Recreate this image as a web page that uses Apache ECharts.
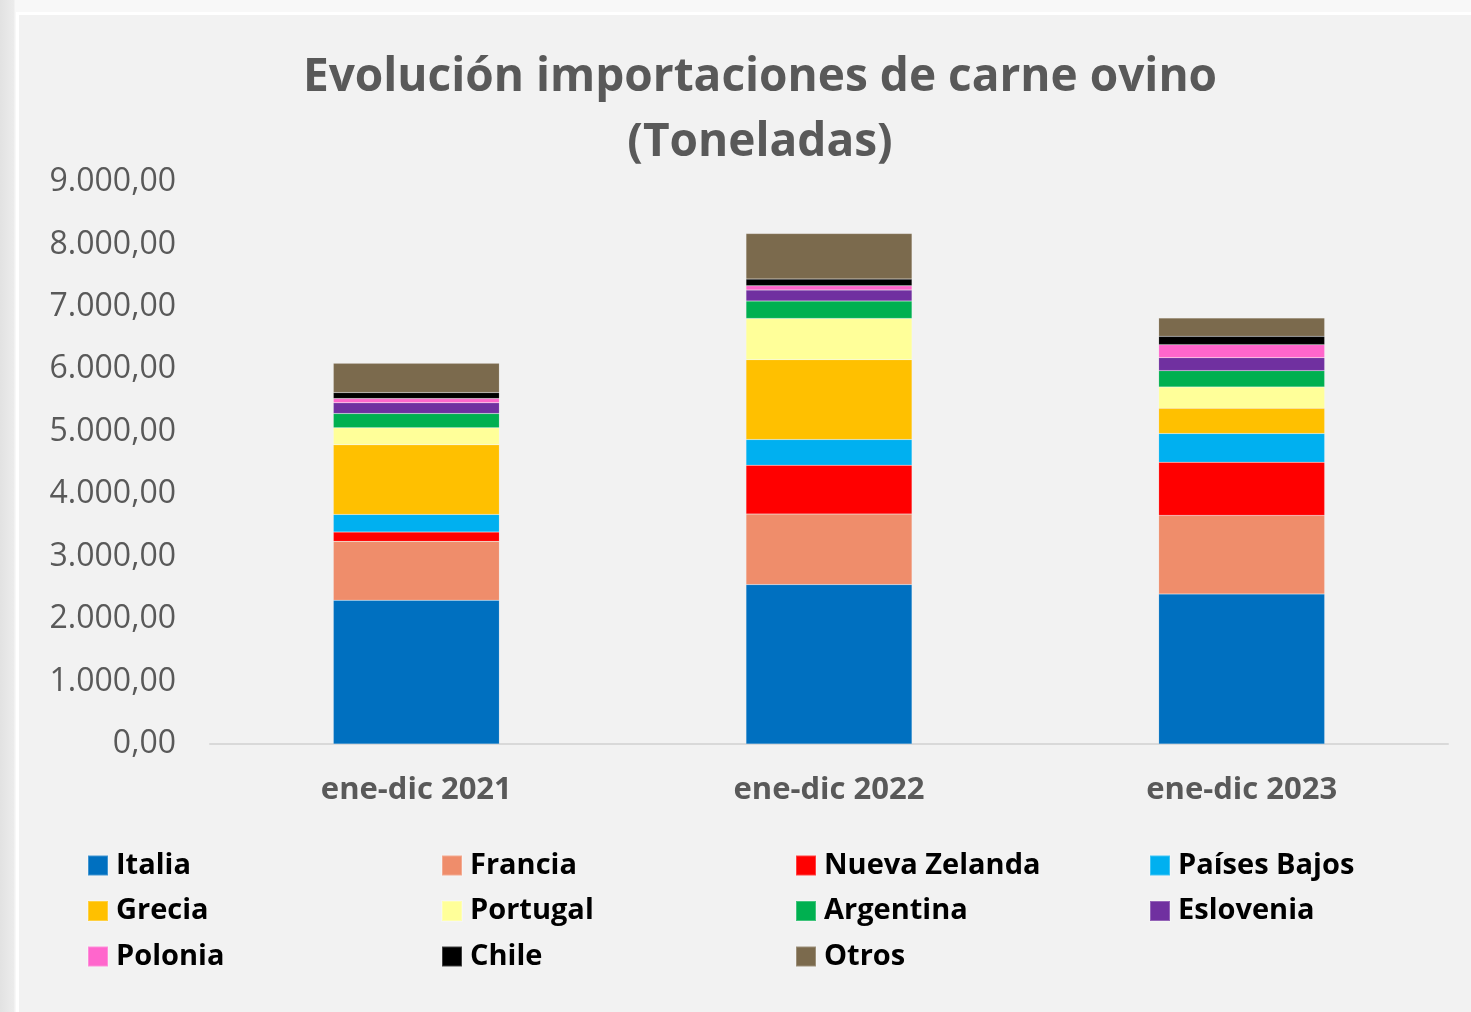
<!DOCTYPE html>
<html>
<head>
<meta charset="utf-8">
<script src="https://cdn.jsdelivr.net/npm/echarts@6/dist/echarts.min.js"></script>
<style>
  html, body { margin: 0; padding: 0; width: 1471px; height: 1012px; overflow: hidden;
    background: linear-gradient(to right, #e2e2e2 0px, #ececec 14px, #f8f8f8 15px); }
  #panel { position: absolute; left: 16px; top: 12px; width: 1460px; height: 1010px;
    background: #f2f2f2; border-left: 3px solid #fff; border-top: 3px solid #fff; }
  #main { position: absolute; left: 0; top: 0; width: 1471px; height: 1012px; }
</style>
</head>
<body>
<div id="panel"></div>
<div id="main"></div>
<script>
// datos (toneladas)
var categories = ['ene-dic 2021', 'ene-dic 2022', 'ene-dic 2023'];
var countries = ['Italia', 'Francia', 'Nueva Zelanda', 'Países Bajos', 'Grecia', 'Portugal',
                 'Argentina', 'Eslovenia', 'Polonia', 'Chile', 'Otros'];
var colors = ['#0070C0', '#EF8D6B', '#FF0000', '#00B0F0', '#FFC000', '#FFFF99',
              '#00B050', '#7030A0', '#FF66CC', '#000000', '#7B6A4D'];
var italia      = [2302, 2553, 2403];
var francia     = [943, 1129, 1258];
var nuevaZel    = [149, 783, 852];
var paisesBajos = [283, 411, 459];
var grecia      = [1114, 1279, 404];
var portugal    = [272, 660, 342];
var argentina   = [229, 278, 261];
var eslovenia   = [171, 176, 208];
var polonia     = [69, 69, 208];
var chile       = [96, 107, 133];
var otros       = [468, 729, 294];
var yTicks = [0, 1000, 2000, 3000, 4000, 5000, 6000, 7000, 8000, 9000];

var values = [italia, francia, nuevaZel, paisesBajos, grecia, portugal,
              argentina, eslovenia, polonia, chile, otros];

function fmt(v) {
    var s = String(Math.round(v)).replace(/\B(?=(\d{3})+(?!\d))/g, '.');
    return s + ',00';
}

var series = [];
for (var i = 0; i < countries.length; i++) {
    series.push({
        name: countries[i],
        type: 'bar',
        stack: 'total',
        barWidth: 166,
        itemStyle: { color: colors[i], borderColor: 'rgba(255,255,255,0.25)', borderWidth: 0.5 },
        data: values[i]
    });
}

// leyenda en 4 columnas
var legendCols = [
    ['Italia', 'Grecia', 'Polonia'],
    ['Francia', 'Portugal', 'Chile'],
    ['Nueva Zelanda', 'Argentina', 'Otros'],
    ['Países Bajos', 'Eslovenia']
];
var legendLeft = [82, 436, 790, 1144];
var legends = [];
for (var c = 0; c < legendCols.length; c++) {
    legends.push({
        orient: 'vertical',
        left: legendLeft[c],
        top: 846,
        data: legendCols[c],
        icon: 'rect',
        itemWidth: 20,
        itemHeight: 20,
        itemGap: 16.5,
        selectedMode: false,
        textStyle: {
            color: '#000',
            fontSize: 29,
            fontWeight: 'bold',
            fontFamily: 'Open Sans',
            padding: [0, 0, 0, 3]
        }
    });
}

var myChart = echarts.init(document.getElementById('main'));
myChart.setOption({
    animation: false,
    backgroundColor: 'transparent',
    title: {
        text: 'Evolución importaciones de carne ovino\n(Toneladas)',
        left: 755,
        textAlign: 'center',
        top: 40,
        textStyle: {
            color: '#595959',
            fontSize: 46,
            fontWeight: 'bold',
            fontFamily: 'Open Sans',
            lineHeight: 65
        }
    },
    legend: legends,
    grid: {
        left: 210,
        right: 23,
        top: 182,
        bottom: 268
    },
    xAxis: {
        type: 'category',
        data: categories,
        axisLine: { lineStyle: { color: '#d9d9d9', width: 2 } },
        axisTick: { show: false },
        axisLabel: {
            color: '#595959',
            fontSize: 31,
            fontWeight: 'bold',
            fontFamily: 'Open Sans',
            margin: 31
        }
    },
    yAxis: {
        type: 'value',
        min: yTicks[0],
        max: yTicks[yTicks.length - 1],
        interval: 1000,
        splitLine: { show: false },
        axisLine: { show: false },
        axisTick: { show: false },
        axisLabel: {
            color: '#595959',
            fontSize: 32,
            fontFamily: 'Open Sans',
            margin: 34,
            padding: [5, 0, 0, 0],
            formatter: function (value) { return fmt(value); }
        }
    },
    series: series
});
</script>
</body>
</html>
